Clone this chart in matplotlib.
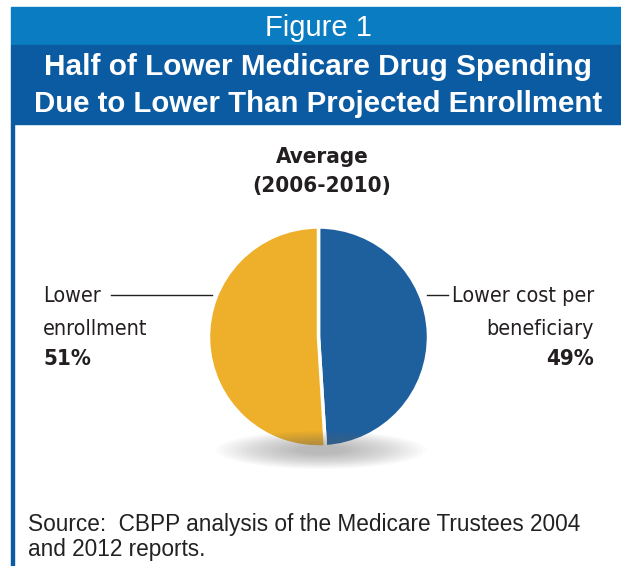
import matplotlib
matplotlib.use("Agg")
import matplotlib.pyplot as plt
from matplotlib.patches import Rectangle, Ellipse

# ---- data ----
categories = ["Lower cost per\nbeneficiary", "Lower\nenrollment"]
shares = [49, 51]
share_labels = ["49%", "51%"]
colors = ["#1E5F9E", "#EEAF2A"]
fig_label = "Figure 1"
title_lines = ["Half of Lower Medicare Drug Spending",
               "Due to Lower Than Projected Enrollment"]
subtitle_lines = ["Average", "(2006-2010)"]
source_lines = ["Source:  CBPP analysis of the Medicare Trustees 2004",
                "and 2012 reports."]

W, H = 621, 566
fig = plt.figure(figsize=(W / 100, H / 100), dpi=100)
fig.patch.set_facecolor("white")

def fx(x):
    return x / W

def fy(y):
    return 1 - y / H

cond = dict(family=["DejaVu Sans"], fontstretch="condensed")
sans = ["Liberation Sans", "DejaVu Sans"]

# header bands
fig.patches.append(Rectangle((fx(11), fy(45)), fx(621 - 11), 38 / H,
                             transform=fig.transFigure, color="#0A7DC2", zorder=0))
fig.patches.append(Rectangle((fx(11), fy(124)), fx(621 - 11), 79 / H,
                             transform=fig.transFigure, color="#0B5BA2", zorder=0))
# left border
fig.patches.append(Rectangle((fx(11), 0), 2.5 / W, fy(124),
                             transform=fig.transFigure, color="#0B5BA2", zorder=0))

fig.text(fx(318), fy(36), fig_label, color="white", fontsize=21,
         family=sans, ha="center", va="baseline")
fig.text(fx(318), fy(75), title_lines[0], color="white", fontsize=21.4,
         family=sans, fontweight="bold", ha="center", va="baseline")
fig.text(fx(318), fy(112), title_lines[1], color="white", fontsize=21.2,
         family=sans, fontweight="bold", ha="center", va="baseline")

# subtitle
lab_color = "#231F20"
fig.text(fx(322), fy(163), subtitle_lines[0], color=lab_color, fontsize=16,
         fontweight="bold", ha="center", va="baseline", **cond)
fig.text(fx(322), fy(192), subtitle_lines[1], color=lab_color, fontsize=16,
         fontweight="bold", ha="center", va="baseline", **cond)

# soft shadow under pie
n = 20
for i in range(n):
    s = 1 - i * 0.04
    fig.patches.append(Ellipse((fx(321), fy(450)), 210 * s / W, 38 * s / H,
                               transform=fig.transFigure, color="#707070",
                               alpha=0.026, lw=0, zorder=0))

# pie
cx, cy, r = 318.5, 337, 110
ax = fig.add_axes([fx(cx - r), fy(cy + r), 2 * r / W, 2 * r / H])
ax.pie(shares, colors=colors, startangle=90, counterclock=False,
       wedgeprops=dict(edgecolor="white", linewidth=2.5))
ax.set_xlim(-1.0, 1.0)
ax.set_ylim(-1.0, 1.0)
ax.set_aspect("auto")
ax.axis("off")

# labels
fs = 15.4
left_lines = categories[1].split("\n")
right_lines = categories[0].split("\n")
baselines = [302, 335]
for ln, b in zip(left_lines, baselines):
    fig.text(fx(43), fy(b), ln, color=lab_color, fontsize=fs,
             ha="left", va="baseline", **cond)
for ln, b in zip(right_lines, baselines):
    fig.text(fx(594), fy(b), ln, color=lab_color, fontsize=fs,
             ha="right", va="baseline", **cond)
fig.text(fx(43), fy(365), share_labels[1], color=lab_color, fontsize=fs + 0.6,
         fontweight="bold", ha="left", va="baseline", **cond)
fig.text(fx(594), fy(365), share_labels[0], color=lab_color, fontsize=fs + 0.6,
         fontweight="bold", ha="right", va="baseline", **cond)

# leader lines
fig.add_artist(plt.Line2D([fx(111), fx(212)], [fy(295), fy(295)],
                          transform=fig.transFigure, color="#231F20", lw=1))
fig.add_artist(plt.Line2D([fx(427), fx(448)], [fy(295), fy(295)],
                          transform=fig.transFigure, color="#231F20", lw=1))

# source
fig.text(fx(28), fy(531), source_lines[0], color="#222222", fontsize=16.3,
         family=sans, ha="left", va="baseline")
fig.text(fx(28), fy(556), source_lines[1], color="#222222", fontsize=16.3,
         family=sans, ha="left", va="baseline")

fig.savefig("out.png", dpi=100, facecolor="white")
